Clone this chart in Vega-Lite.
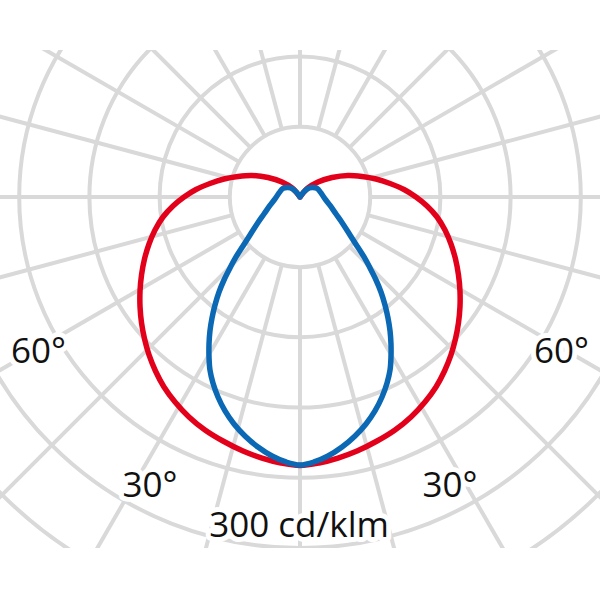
{
  "$schema": "https://vega.github.io/schema/vega-lite/v6.json",
  "width": 600,
  "height": 498,
  "autosize": {"type": "none"},
  "padding": {"left": 0, "right": 0, "top": 50, "bottom": 52},
  "background": "white",
  "config": {"view": {"stroke": null}},
  "datasets": {
    "circles": [{"r": 75}, {"r": 150}, {"r": 225}, {"r": 300}, {"r": 375}, {"r": 450}],
    "spokes": [
      {"angle": 0, "x": 0, "y": -75, "x2": 0, "y2": -600},
      {"angle": 15, "x": 19.41, "y": -72.44, "x2": 155.29, "y2": -579.56},
      {"angle": 30, "x": 37.5, "y": -64.95, "x2": 300, "y2": -519.62},
      {"angle": 45, "x": 53.03, "y": -53.03, "x2": 424.26, "y2": -424.26},
      {"angle": 60, "x": 64.95, "y": -37.5, "x2": 519.62, "y2": -300},
      {"angle": 75, "x": 72.44, "y": -19.41, "x2": 579.56, "y2": -155.29},
      {"angle": 90, "x": 75, "y": 0, "x2": 600, "y2": 0},
      {"angle": 105, "x": 72.44, "y": 19.41, "x2": 579.56, "y2": 155.29},
      {"angle": 120, "x": 64.95, "y": 37.5, "x2": 519.62, "y2": 300},
      {"angle": 135, "x": 53.03, "y": 53.03, "x2": 424.26, "y2": 424.26},
      {"angle": 150, "x": 37.5, "y": 64.95, "x2": 300, "y2": 519.62},
      {"angle": 165, "x": 19.41, "y": 72.44, "x2": 155.29, "y2": 579.56},
      {"angle": 180, "x": 0, "y": 75, "x2": 0, "y2": 600},
      {"angle": 195, "x": -19.41, "y": 72.44, "x2": -155.29, "y2": 579.56},
      {"angle": 210, "x": -37.5, "y": 64.95, "x2": -300, "y2": 519.62},
      {"angle": 225, "x": -53.03, "y": 53.03, "x2": -424.26, "y2": 424.26},
      {"angle": 240, "x": -64.95, "y": 37.5, "x2": -519.62, "y2": 300},
      {"angle": 255, "x": -72.44, "y": 19.41, "x2": -579.56, "y2": 155.29},
      {"angle": 270, "x": -75, "y": 0, "x2": -600, "y2": 0},
      {"angle": 285, "x": -72.44, "y": -19.41, "x2": -579.56, "y2": -155.29},
      {"angle": 300, "x": -64.95, "y": -37.5, "x2": -519.62, "y2": -300},
      {"angle": 315, "x": -53.03, "y": -53.03, "x2": -424.26, "y2": -424.26},
      {"angle": 330, "x": -37.5, "y": -64.95, "x2": -300, "y2": -519.62},
      {"angle": 345, "x": -19.41, "y": -72.44, "x2": -155.29, "y2": -579.56}
    ],
    "labels": [
      {"label": "60°", "x": -279.4, "y": -177},
      {"label": "60°", "x": 279.4, "y": -177},
      {"label": "30°", "x": -160.3, "y": -320.5},
      {"label": "30°", "x": 160.3, "y": -320.5},
      {"label": "300 cd/klm", "x": -1, "y": -363.3}
    ],
    "red": [
      {"i": 1, "x": 0, "y": 0}, {"i": 2, "x": -8.5, "y": 9.6}, {"i": 3, "x": -19.2, "y": 16.0},
      {"i": 4, "x": -34.2, "y": 20.8}, {"i": 5, "x": -51.3, "y": 23.0}, {"i": 6, "x": -66.2, "y": 21.9},
      {"i": 7, "x": -81.2, "y": 19.2}, {"i": 8, "x": -96.2, "y": 14.4}, {"i": 9, "x": -111.1, "y": 8.0},
      {"i": 10, "x": -123.9, "y": 0}, {"i": 11, "x": -135.7, "y": -9.6}, {"i": 12, "x": -146.4, "y": -21.4},
      {"i": 13, "x": -154.9, "y": -35.3}, {"i": 14, "x": -161.3, "y": -50.2}, {"i": 15, "x": -166.1, "y": -66.2},
      {"i": 16, "x": -169.3, "y": -83.3}, {"i": 17, "x": -170.9, "y": -100.4}, {"i": 18, "x": -170.9, "y": -117.5},
      {"i": 19, "x": -169.3, "y": -134.6}, {"i": 20, "x": -166.1, "y": -151.7}, {"i": 21, "x": -161.3, "y": -168.8},
      {"i": 22, "x": -154.4, "y": -185.9}, {"i": 23, "x": -145.3, "y": -203.0}, {"i": 24, "x": -133.5, "y": -219.0},
      {"i": 25, "x": -118.6, "y": -235.0}, {"i": 26, "x": -101.5, "y": -248.9}, {"i": 27, "x": -82.3, "y": -260.7},
      {"i": 28, "x": -60.9, "y": -271.4}, {"i": 29, "x": -40.6, "y": -278.9}, {"i": 30, "x": -20.3, "y": -284.2},
      {"i": 31, "x": 0, "y": -286.9},
      {"i": 32, "x": 20.3, "y": -284.2}, {"i": 33, "x": 40.6, "y": -278.9}, {"i": 34, "x": 60.9, "y": -271.4},
      {"i": 35, "x": 82.3, "y": -260.7}, {"i": 36, "x": 101.5, "y": -248.9}, {"i": 37, "x": 118.6, "y": -235.0},
      {"i": 38, "x": 133.5, "y": -219.0}, {"i": 39, "x": 145.3, "y": -203.0}, {"i": 40, "x": 154.4, "y": -185.9},
      {"i": 41, "x": 161.3, "y": -168.8}, {"i": 42, "x": 166.1, "y": -151.7}, {"i": 43, "x": 169.3, "y": -134.6},
      {"i": 44, "x": 170.9, "y": -117.5}, {"i": 45, "x": 170.9, "y": -100.4}, {"i": 46, "x": 169.3, "y": -83.3},
      {"i": 47, "x": 166.1, "y": -66.2}, {"i": 48, "x": 161.3, "y": -50.2}, {"i": 49, "x": 154.9, "y": -35.3},
      {"i": 50, "x": 146.4, "y": -21.4}, {"i": 51, "x": 135.7, "y": -9.6}, {"i": 52, "x": 123.9, "y": 0},
      {"i": 53, "x": 111.1, "y": 8.0}, {"i": 54, "x": 96.2, "y": 14.4}, {"i": 55, "x": 81.2, "y": 19.2},
      {"i": 56, "x": 66.2, "y": 21.9}, {"i": 57, "x": 51.3, "y": 23.0}, {"i": 58, "x": 34.2, "y": 20.8},
      {"i": 59, "x": 19.2, "y": 16.0}, {"i": 60, "x": 8.5, "y": 9.6}, {"i": 61, "x": 0, "y": 0}
    ],
    "blue": [
      {"i": 1, "x": 0, "y": 0}, {"i": 2, "x": -3.2, "y": 4.3}, {"i": 3, "x": -7.5, "y": 8.5},
      {"i": 4, "x": -12.8, "y": 10.1}, {"i": 5, "x": -18.2, "y": 9.1}, {"i": 6, "x": -22.4, "y": 4.3},
      {"i": 7, "x": -26.7, "y": -2.1}, {"i": 8, "x": -32.1, "y": -9.1}, {"i": 9, "x": -38.5, "y": -18.2},
      {"i": 10, "x": -45.9, "y": -28.8}, {"i": 11, "x": -53.4, "y": -40.6}, {"i": 12, "x": -60.9, "y": -52.4},
      {"i": 13, "x": -68.4, "y": -64.1}, {"i": 14, "x": -74.8, "y": -75.9}, {"i": 15, "x": -81.2, "y": -88.7},
      {"i": 16, "x": -86.5, "y": -101.5}, {"i": 17, "x": -90.8, "y": -115.4}, {"i": 18, "x": -94.0, "y": -129.3},
      {"i": 19, "x": -96.2, "y": -143.2}, {"i": 20, "x": -97.2, "y": -157.1}, {"i": 21, "x": -97.2, "y": -170.9},
      {"i": 22, "x": -96.2, "y": -184.8}, {"i": 23, "x": -93.0, "y": -198.7}, {"i": 24, "x": -87.6, "y": -213.7},
      {"i": 25, "x": -80.1, "y": -228.6}, {"i": 26, "x": -70.5, "y": -242.5}, {"i": 27, "x": -58.8, "y": -255.3},
      {"i": 28, "x": -44.9, "y": -267.1}, {"i": 29, "x": -29.9, "y": -276.7}, {"i": 30, "x": -15.0, "y": -283.1},
      {"i": 31, "x": 0, "y": -286.3},
      {"i": 32, "x": 15.0, "y": -283.1}, {"i": 33, "x": 29.9, "y": -276.7}, {"i": 34, "x": 44.9, "y": -267.1},
      {"i": 35, "x": 58.8, "y": -255.3}, {"i": 36, "x": 70.5, "y": -242.5}, {"i": 37, "x": 80.1, "y": -228.6},
      {"i": 38, "x": 87.6, "y": -213.7}, {"i": 39, "x": 93.0, "y": -198.7}, {"i": 40, "x": 96.2, "y": -184.8},
      {"i": 41, "x": 97.2, "y": -170.9}, {"i": 42, "x": 97.2, "y": -157.1}, {"i": 43, "x": 96.2, "y": -143.2},
      {"i": 44, "x": 94.0, "y": -129.3}, {"i": 45, "x": 90.8, "y": -115.4}, {"i": 46, "x": 86.5, "y": -101.5},
      {"i": 47, "x": 81.2, "y": -88.7}, {"i": 48, "x": 74.8, "y": -75.9}, {"i": 49, "x": 68.4, "y": -64.1},
      {"i": 50, "x": 60.9, "y": -52.4}, {"i": 51, "x": 53.4, "y": -40.6}, {"i": 52, "x": 45.9, "y": -28.8},
      {"i": 53, "x": 38.5, "y": -18.2}, {"i": 54, "x": 32.1, "y": -9.1}, {"i": 55, "x": 26.7, "y": -2.1},
      {"i": 56, "x": 22.4, "y": 4.3}, {"i": 57, "x": 18.2, "y": 9.1}, {"i": 58, "x": 12.8, "y": 10.1},
      {"i": 59, "x": 7.5, "y": 8.5}, {"i": 60, "x": 3.2, "y": 4.3}, {"i": 61, "x": 0, "y": 0}
    ]
  },
  "layer": [
    {
      "data": {"name": "circles"},
      "mark": {"type": "point", "shape": "circle", "filled": false, "stroke": "#d9d9d9", "strokeWidth": 4, "opacity": 1, "clip": true},
      "encoding": {
        "x": {"datum": 0, "type": "quantitative", "scale": {"domain": [-320.5, 320.5], "nice": false, "zero": false}, "axis": null},
        "y": {"datum": 0, "type": "quantitative", "scale": {"domain": [-375, 157], "nice": false, "zero": false}, "axis": null},
        "size": {"field": "r", "type": "quantitative", "scale": {"type": "pow", "exponent": 2, "domain": [0, 600], "range": [0, 1261578]}, "legend": null}
      }
    },
    {
      "data": {"name": "spokes"},
      "mark": {"type": "rule", "stroke": "#d9d9d9", "strokeWidth": 4, "clip": true},
      "encoding": {
        "x": {"field": "x", "type": "quantitative", "axis": null},
        "y": {"field": "y", "type": "quantitative", "axis": null},
        "x2": {"field": "x2"},
        "y2": {"field": "y2"}
      }
    },
    {
      "data": {"name": "labels"},
      "mark": {"type": "text", "font": "Open Sans", "fontSize": 35, "align": "center", "baseline": "alphabetic", "stroke": "white", "strokeWidth": 10, "strokeJoin": "round", "fill": "white"},
      "encoding": {
        "x": {"field": "x", "type": "quantitative", "axis": null},
        "y": {"field": "y", "type": "quantitative", "axis": null},
        "text": {"field": "label"}
      }
    },
    {
      "data": {"name": "labels"},
      "mark": {"type": "text", "font": "Open Sans", "fontSize": 35, "align": "center", "baseline": "alphabetic", "fill": "#111111"},
      "encoding": {
        "x": {"field": "x", "type": "quantitative", "axis": null},
        "y": {"field": "y", "type": "quantitative", "axis": null},
        "text": {"field": "label"}
      }
    },
    {
      "data": {"name": "red"},
      "mark": {"type": "line", "stroke": "#e2001a", "strokeWidth": 5.5, "interpolate": "catmull-rom", "strokeJoin": "round", "strokeCap": "round", "clip": true},
      "encoding": {
        "x": {"field": "x", "type": "quantitative", "axis": null},
        "y": {"field": "y", "type": "quantitative", "axis": null},
        "order": {"field": "i", "type": "quantitative"}
      }
    },
    {
      "data": {"name": "blue"},
      "mark": {"type": "line", "stroke": "#0a68b4", "strokeWidth": 5.5, "interpolate": "catmull-rom", "strokeJoin": "round", "strokeCap": "round", "clip": true},
      "encoding": {
        "x": {"field": "x", "type": "quantitative", "axis": null},
        "y": {"field": "y", "type": "quantitative", "axis": null},
        "order": {"field": "i", "type": "quantitative"}
      }
    }
  ]
}
